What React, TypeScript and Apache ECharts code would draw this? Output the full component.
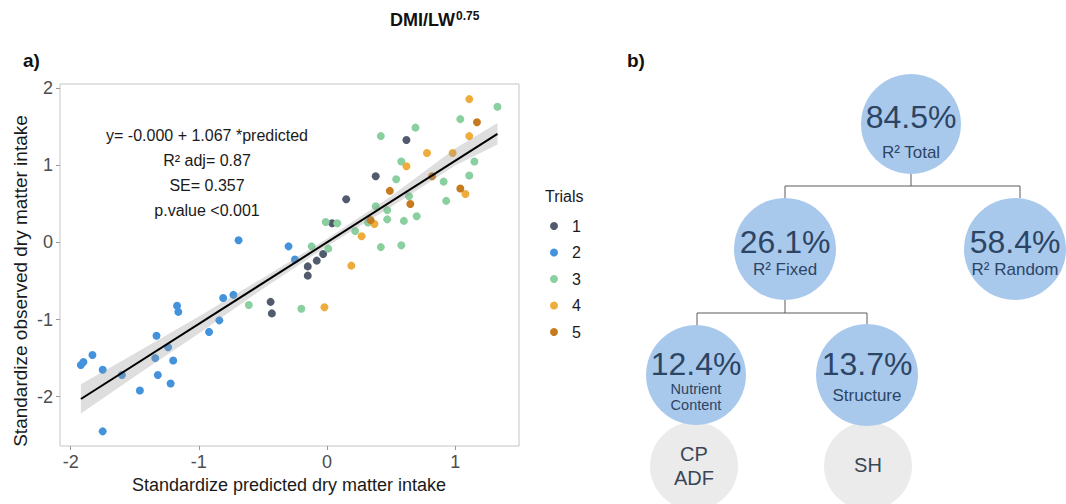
import React, { useEffect, useRef } from "react";
import * as echarts from "echarts";

const FONT = "'Liberation Sans', Arial, sans-serif";

// Trials (standardized predicted, standardized observed)
const trial1: number[][] = [
  [0.04, 0.25], [-0.03, -0.15], [-0.08, -0.235], [-0.15, -0.31], [-0.15, -0.43],
  [-0.44, -0.77], [-0.43, -0.92], [0.62, 1.33], [0.38, 0.86], [0.15, 0.56],
];
const trial2: number[][] = [
  [-0.69, 0.03], [-0.3, -0.05], [-0.25, -0.22], [-0.73, -0.68], [-0.81, -0.72],
  [-0.84, -1.01], [-0.92, -1.16], [-1.17, -0.82], [-1.16, -0.9], [-1.33, -1.21],
  [-1.24, -1.36], [-1.34, -1.5], [-1.2, -1.53], [-1.32, -1.72], [-1.22, -1.83],
  [-1.46, -1.92], [-1.6, -1.72], [-1.75, -1.65], [-1.83, -1.46], [-1.9, -1.55],
  [-1.92, -1.59], [-1.75, -2.45],
];
const trial3: number[][] = [
  [-0.12, -0.05], [-0.01, 0.265], [0.08, 0.25], [0.01, -0.08], [-0.61, -0.81],
  [-0.2, -0.86], [1.33, 1.76], [1.04, 1.6], [0.69, 1.49], [0.42, 1.38],
  [1.15, 1.05], [0.58, 1.05], [1.11, 0.87], [0.54, 0.82], [0.91, 0.79],
  [0.64, 0.6], [0.93, 0.54], [0.38, 0.47], [0.47, 0.42], [0.7, 0.34],
  [0.47, 0.3], [0.6, 0.28], [0.32, 0.26], [0.22, 0.15], [0.42, -0.06], [0.58, -0.035],
];
const trial4: number[][] = [
  [-0.02, -0.84], [1.11, 1.86], [1.11, 1.38], [0.78, 1.16], [0.98, 1.16],
  [0.62, 0.99], [1.08, 0.63], [0.37, 0.24], [0.27, 0.08], [0.19, -0.3],
];
const trial5: number[][] = [
  [1.17, 1.56], [0.82, 0.86], [1.04, 0.7], [0.49, 0.67], [0.65, 0.5], [0.34, 0.29],
];

const trialNames = ["1", "2", "3", "4", "5"];
const trialColors = ["#525a6e", "#4393dc", "#8acfa0", "#eeac3c", "#c67b1f"];
const trialData = [trial1, trial2, trial3, trial4, trial5];

// Fitted line and its confidence band
const lineX = [-1.92, 1.33];
const lineY = [-2.03, 1.41];
const bandX = [-1.92, -1.5, -1.0, -0.5, 0.0, 0.5, 1.0, 1.33];
const bandLower = [-2.22, -1.74, -1.18, -0.6, -0.05, 0.46, 1.0, 1.27];
const bandUpper = [-1.84, -1.44, -0.96, -0.46, 0.05, 0.6, 1.22, 1.55];

const xTicks = [-2, -1, 0, 1];
const yTicks = [-2, -1, 0, 1, 2];

const annotationLines = [
  "y= -0.000 + 1.067 *predicted",
  "R² adj= 0.87",
  "SE= 0.357",
  "p.value <0.001",
];

// Variance partition tree
const nodeValues = ["84.5%", "26.1%", "58.4%", "12.4%", "13.7%"];
const nodeLabels = [["R² Total"], ["R² Fixed"], ["R² Random"], ["Nutrient", "Content"], ["Structure"]];
const leafLabels = [["CP", "ADF"], ["SH"]];

export default function App() {
  const ref = useRef<HTMLDivElement>(null);

  useEffect(() => {
    if (!ref.current) return;
    const chart = echarts.init(ref.current, undefined, { renderer: "svg" });

    const blue = "#a9c9ec";
    const gray = "#ebebeb";
    const txtBlue = "#2d4565";
    const txtGray = "#3a4656";
    const lineCol = "#5a5a5a";

    // node layout
    const nodes = [
      { x: 911, y: 124, r: 50, vy: 117, ly: [152], ls: 17 },
      { x: 785, y: 249, r: 51, vy: 242, ly: [269], ls: 17 },
      { x: 1015, y: 249, r: 51, vy: 242, ly: [269], ls: 17 },
      { x: 696, y: 375, r: 50, vy: 364, ly: [389, 405], ls: 14.5 },
      { x: 867, y: 375, r: 51, vy: 364, ly: [395], ls: 17 },
    ];
    const leaves = [
      { x: 694, y: 466, r: 44, ly: [454, 478] },
      { x: 868, y: 466, r: 44, ly: [465] },
    ];
    const connectors = [
      [911, 174, 911, 186], [785, 186, 1020, 186], [785, 186, 785, 198], [1020, 186, 1020, 198],
      [785, 300, 785, 313], [697, 313, 867, 313], [697, 313, 697, 326], [867, 313, 867, 326],
    ];

    const graphics: any[] = [];
    graphics.push({ type: "text", x: 455, y: 20, style: { text: "DMI/LW", font: `bold 18px ${FONT}`, fill: "#111", align: "right", verticalAlign: "middle" } });
    graphics.push({ type: "text", x: 456, y: 16, style: { text: "0.75", font: `bold 12px ${FONT}`, fill: "#111", align: "left", verticalAlign: "middle" } });
    graphics.push({ type: "text", x: 23, y: 60, style: { text: "a)", font: `bold 19px ${FONT}`, fill: "#111", align: "left", verticalAlign: "middle" } });
    graphics.push({ type: "text", x: 627, y: 60, style: { text: "b)", font: `bold 19px ${FONT}`, fill: "#111", align: "left", verticalAlign: "middle" } });
    annotationLines.forEach((t, i) => {
      graphics.push({ type: "text", x: 207, y: 135 + i * 25.3, z: 10, style: { text: t, font: `16px ${FONT}`, fill: "#1a1a1a", align: "center", verticalAlign: "middle" } });
    });
    graphics.push({ type: "text", x: 20, y: 281, rotation: Math.PI / 2, style: { text: "Standardize observed dry matter intake", font: `19px ${FONT}`, fill: "#1a1a1a", align: "center", verticalAlign: "middle" } });
    graphics.push({ type: "text", x: 289, y: 485, style: { text: "Standardize predicted dry matter intake", font: `18px ${FONT}`, fill: "#1a1a1a", align: "center", verticalAlign: "middle" } });
    graphics.push({ type: "text", x: 545, y: 196, style: { text: "Trials", font: `16px ${FONT}`, fill: "#1a1a1a", align: "left", verticalAlign: "middle" } });

    connectors.forEach((c) => {
      graphics.push({ type: "line", shape: { x1: c[0], y1: c[1], x2: c[2], y2: c[3] }, style: { stroke: lineCol, lineWidth: 1 } });
    });
    leaves.forEach((n, i) => {
      graphics.push({ type: "circle", shape: { cx: n.x, cy: n.y, r: n.r }, style: { fill: gray } });
      leafLabels[i].forEach((t, j) => {
        graphics.push({ type: "text", x: n.x, y: n.ly[j], style: { text: t, font: `20px ${FONT}`, fill: txtGray, align: "center", verticalAlign: "middle" } });
      });
    });
    nodes.forEach((n, i) => {
      graphics.push({ type: "circle", shape: { cx: n.x, cy: n.y, r: n.r }, style: { fill: blue } });
      graphics.push({ type: "text", x: n.x, y: n.vy, style: { text: nodeValues[i], font: `32px ${FONT}`, lineHeight: 30, fill: txtBlue, align: "center", verticalAlign: "middle" } });
      nodeLabels[i].forEach((t, j) => {
        graphics.push({ type: "text", x: n.x, y: n.ly[j], style: { text: t, font: `${n.ls}px ${FONT}`, fill: txtBlue, align: "center", verticalAlign: "middle" } });
      });
    });

    const scatterSeries = trialData.map((d, i) => ({
      name: trialNames[i],
      type: "scatter",
      data: d,
      symbolSize: 8,
      itemStyle: { color: trialColors[i], opacity: 1 },
      z: 2,
    }));

    const option: any = {
      animation: false,
      textStyle: { fontFamily: FONT },
      grid: {
        left: 60, top: 84, width: 459, height: 362,
        show: true, borderColor: "#c4c4c4", borderWidth: 1, backgroundColor: "transparent",
        containLabel: false, outerBoundsMode: "none",
      },
      xAxis: {
        type: "value", min: -2.083, max: 1.498,
        axisLine: { show: false, onZero: false },
        axisTick: { show: true, length: 4, lineStyle: { color: "#999" }, customValues: xTicks },
        axisLabel: { customValues: xTicks, color: "#4d4d4d", fontSize: 18, margin: 7, fontFamily: FONT },
        splitLine: { show: false },
      },
      yAxis: {
        type: "value", min: -2.64, max: 2.056,
        axisLine: { show: false, onZero: false },
        axisTick: { show: true, length: 4, lineStyle: { color: "#999" }, customValues: yTicks },
        axisLabel: { customValues: yTicks, color: "#4d4d4d", fontSize: 18, margin: 7, fontFamily: FONT },
        splitLine: { show: false },
      },
      legend: {
        data: trialNames,
        orient: "vertical",
        left: 545, top: 213,
        icon: "circle",
        itemWidth: 26, itemHeight: 8,
        itemGap: 10.5,
        textStyle: { fontSize: 16, color: "#1a1a1a", lineHeight: 16, fontFamily: FONT },
        selectedMode: false,
      },
      series: [
        ...scatterSeries,
        {
          name: "band",
          type: "custom",
          silent: true,
          z: 3,
          data: [[bandX[0], bandLower[0]]],
          renderItem: (params: any, api: any) => {
            if (params.dataIndex !== 0) return null;
            const up = bandX.map((x, i) => api.coord([x, bandUpper[i]]));
            const lo = bandX.map((x, i) => api.coord([x, bandLower[i]])).reverse();
            return { type: "polygon", shape: { points: up.concat(lo) }, style: { fill: "rgba(153,153,153,0.32)" } };
          },
        },
        {
          name: "fit",
          type: "line",
          data: lineX.map((x, i) => [x, lineY[i]]),
          showSymbol: false,
          lineStyle: { color: "#000", width: 2 },
          z: 4,
          silent: true,
        },
      ],
      graphic: graphics,
    };

    chart.setOption(option);
    return () => chart.dispose();
  }, []);

  return <div ref={ref} style={{ position: "absolute", left: 0, top: 0, width: 1066, height: 504, background: "#fff" }} />;
}
